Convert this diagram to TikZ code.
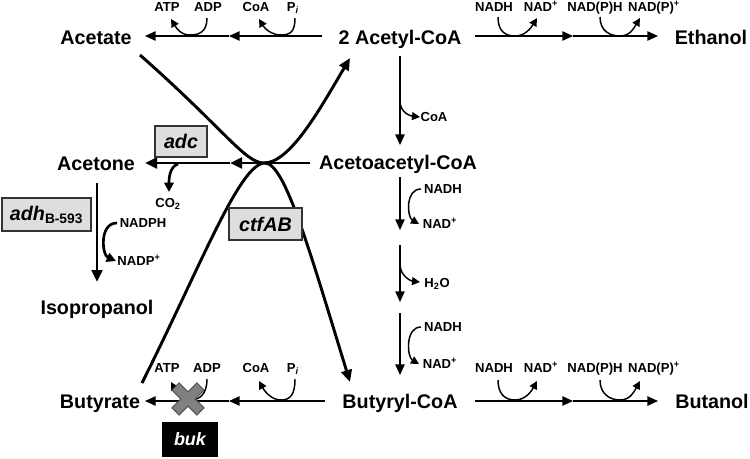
\documentclass[tikz,border=0pt]{standalone}
\usepackage{fontspec}
\setmainfont{Liberation Sans}
\usetikzlibrary{arrows.meta,calc}
\begin{document}
\begin{tikzpicture}[x=0.75pt,y=-0.75pt,
 big/.style={font=\fontsize{14.8}{17}\selectfont\bfseries, inner sep=0pt, text height=10.6pt, text depth=0pt},
 lbl/.style={font=\fontsize{9.8}{11}\selectfont\bfseries, inner sep=0pt, text height=7pt, text depth=0pt},
 thinarr/.style={line width=1.2pt, -{Triangle[length=8pt,width=7pt]}},
 thickarr/.style={line width=2.2pt, -{Triangle[length=9pt,width=8pt]}},
 arcarr/.style={line width=1.1pt, -{Triangle[length=6pt,width=6pt]}},
 thickarc/.style={line width=2pt, -{Triangle[length=7pt,width=7pt]}},
 genebox/.style={draw=black!80, line width=1.1pt, fill=black!13, font=\fontsize{14.8}{17}\selectfont\bfseries\itshape, inner sep=0pt},
 knockbox/.style={fill=black, text=white, font=\fontsize{13.5}{15}\selectfont\bfseries\itshape, inner sep=0pt},
 xout/.style={draw=black!70, line width=1.6pt},
 xfill/.style={fill=black!50}
]
\useasboundingbox (0,0) rectangle (750,458);

% main compounds
\node[big] (acetate) at (96,37) {Acetate};
\node[big] (acetylcoa) at (400,37) {2 Acetyl-CoA};
\node[big] (ethanol) at (711,37) {Ethanol};
\node[big] (acetone) at (96,163) {Acetone};
\node[big] (acetoacetyl) at (398,162) {Acetoacetyl-CoA};
\node[big] (isoprop) at (97,307) {Isopropanol};
\node[big] (butyrate) at (100,401) {Butyrate};
\node[big] (butyryl) at (400,401) {Butyryl-CoA};
\node[big] (butanol) at (712,401) {Butanol};

% cofactor labels, top
\node[lbl] (atp1) at (167,7) {ATP};
\node[lbl] (adp1) at (208,7) {ADP};
\node[lbl] (coa1) at (256,7) {CoA};
\node[lbl] (pi1) at (293,7) {P\textsubscript{\textit{i}}};
\node[lbl] (nadh1) at (494,7) {NADH};
\node[lbl] (nad1) at (541,7) {NAD\textsuperscript{+}};
\node[lbl] (nadph1) at (595,7) {NAD(P)H};
\node[lbl] (nadp1) at (654,7) {NAD(P)\textsuperscript{+}};
% bottom
\node[lbl] (atp5) at (167,368) {ATP};
\node[lbl] (adp5) at (207,368) {ADP};
\node[lbl] (coa5) at (256,368) {CoA};
\node[lbl] (pi5) at (293,368) {P\textsubscript{\textit{i}}};
\node[lbl] (nadh4) at (494,368) {NADH};
\node[lbl] (nad4) at (541,368) {NAD\textsuperscript{+}};
\node[lbl] (nadph4) at (595,368) {NAD(P)H};
\node[lbl] (nadp4) at (654,368) {NAD(P)\textsuperscript{+}};
% vertical chain
\node[lbl] (coa2) at (434,117) {CoA};
\node[lbl] (nadh2) at (443,189) {NADH};
\node[lbl] (nad2) at (440,224) {NAD\textsuperscript{+}};
\node[lbl] (h2o) at (437,283) {H\textsubscript{2}O};
\node[lbl] (nadh3) at (443,327) {NADH};
\node[lbl] (nad3) at (440,364) {NAD\textsuperscript{+}};
% left
\node[lbl] (co2) at (168,203) {CO\textsubscript{2}};
\node[lbl] (nadph) at (143,223) {NADPH};
\node[lbl] (nadp) at (139,261) {NADP\textsuperscript{+}};

% junction coordinates
\coordinate (m1) at (229,36);
\coordinate (m2) at (573,36);
\coordinate (m3) at (573,401);
\coordinate (m4) at (229,401);
\coordinate (m5) at (230,163);
\coordinate (v1) at (400,230);
\coordinate (v2) at (400,245);
\coordinate (v3) at (400,302);
\coordinate (v4) at (400,313);

% top row
\draw[thinarr] ($(acetylcoa)+(-78,-1)$) -- (m1);
\draw[thinarr] (m1) -- ($(acetate)+(49,-1)$);
\draw[thinarr] ($(acetylcoa)+(75,-1)$) -- (m2);
\draw[thinarr] (m2) -- ($(ethanol)+(-53,-1)$);
\draw[arcarr] ($(pi1)+(2,11)$) .. controls +(0,14) and +(9,0) .. ($(coa1)+(25,28)$) .. controls +(-9,0) and +(6,10) .. ($(coa1)+(3,12)$);
\draw[arcarr] ($(adp1)+(-1,11)$) .. controls +(0,14) and +(9,0) .. ($(atp1)+(23,28)$) .. controls +(-9,0) and +(6,10) .. ($(atp1)+(4,12)$);
\draw[arcarr] ($(nadh1)+(4,10)$) .. controls +(0,14) and +(-10,0) .. ($(nadh1)+(21,29)$) .. controls +(10,0) and +(-6,10) .. ($(nad1)+(-4,11)$);
\draw[arcarr] ($(nadph1)+(5,10)$) .. controls +(0,14) and +(-10,0) .. ($(nadph1)+(25,29)$) .. controls +(10,0) and +(-6,10) .. ($(nadp1)+(-14,11)$);

% bottom row
\draw[thinarr] ($(butyryl)+(-75,0)$) -- (m4);
\draw[thinarr] (m4) -- ($(butyrate)+(45,0)$);
\draw[thinarr] ($(butyryl)+(75,0)$) -- (m3);
\draw[thinarr] (m3) -- ($(butanol)+(-54,0)$);
\draw[arcarr] ($(pi5)+(2,11)$) .. controls +(0,16) and +(9,0) .. ($(coa5)+(25,32)$) .. controls +(-9,0) and +(6,11) .. ($(coa5)+(3,13)$);
\draw[arcarr] ($(adp5)+(0,11)$) .. controls +(0,16) and +(9,0) .. ($(atp5)+(23,32)$) .. controls +(-9,0) and +(6,11) .. ($(atp5)+(4,14)$);
\draw[arcarr] ($(nadh4)+(4,12)$) .. controls +(0,14) and +(-10,0) .. ($(nadh4)+(21,32)$) .. controls +(10,0) and +(-6,11) .. ($(nad4)+(-4,13)$);
\draw[arcarr] ($(nadph4)+(5,12)$) .. controls +(0,14) and +(-10,0) .. ($(nadph4)+(25,32)$) .. controls +(10,0) and +(-6,11) .. ($(nadp4)+(-14,13)$);

% vertical chain
\draw[thinarr] ($(acetylcoa)+(0,19)$) -- ($(acetoacetyl)+(2,-17)$);
\draw[arcarr] ($(acetylcoa)+(0,64)$) .. controls +(0,12) and +(-9,-1) .. ($(coa2)+(-14,0)$);
\draw[thinarr] ($(acetoacetyl)+(2,15)$) -- (v1);
\draw[arcarr] ($(nadh2)+(-22,0)$) .. controls +(-16,0) and +(-12,-7) .. ($(nad2)+(-21,0)$);
\draw[thinarr] (v2) -- (v3);
\draw[arcarr] ($(v2)+(0,19)$) .. controls +(0,12) and +(-9,-1) .. ($(h2o)+(-17,-1)$);
\draw[thinarr] (v4) -- ($(butyryl)+(0,-26)$);
\draw[arcarr] ($(nadh3)+(-22,0)$) .. controls +(-16,0) and +(-12,-7) .. ($(nad3)+(-21,0)$);

% acetone branch
\draw[thickarr] ($(acetoacetyl)+(-88,1)$) -- (m5);
\draw[thickarr] (m5) -- ($(acetone)+(49,0)$);
\draw[thickarc] ($(acetone)+(82,1)$) .. controls +(-9,3) and +(0,-12) .. ($(co2)+(1,-11)$);
\draw[thickarr] ($(acetone)+(1,20)$) -- ($(isoprop)+(0,-25)$);
\draw[thickarc] ($(nadph)+(-26,0)$) .. controls +(-18,0) and +(-14,-6) .. ($(nadp)+(-23,0)$);

% ctfAB transfer curves
\draw[thickarr] ($(acetate)+(44,18)$) .. controls (225,130) and (245,163) .. (264,163) .. controls (290,163) and (320,109) .. ($(acetylcoa)+(-50,21)$);
\draw[thickarr] ($(butyrate)+(42,-18)$) .. controls (202,263) and (240,163) .. (265,163) .. controls (285,163) and (310,252) .. ($(butyryl)+(-50,-19)$);

% gene boxes
\node[genebox, minimum width=39pt, minimum height=23.25pt] (adc) at (181,141.5) {adc};
\node[genebox, minimum width=54.75pt, minimum height=24pt] (ctfab) at (265.5,224) {ctfAB};
\node[genebox, minimum width=66.75pt, minimum height=24.75pt] (adh) at (46.5,214.5) {adh\textsubscript{\normalfont\bfseries\fontsize{10.3}{11}\selectfont B-593}};

% knockout cross
\foreach \a in {45,-45} \draw[xout, shift={(188,399)}, rotate=\a] (-17,-4.5) rectangle (17,4.5);
\foreach \a in {45,-45} \fill[xfill, shift={(188,399)}, rotate=\a] (-17,-4.5) rectangle (17,4.5);
\node[knockbox, minimum width=42pt, minimum height=26.25pt] (buk) at (190,439.5) {buk};
\end{tikzpicture}
\end{document}
